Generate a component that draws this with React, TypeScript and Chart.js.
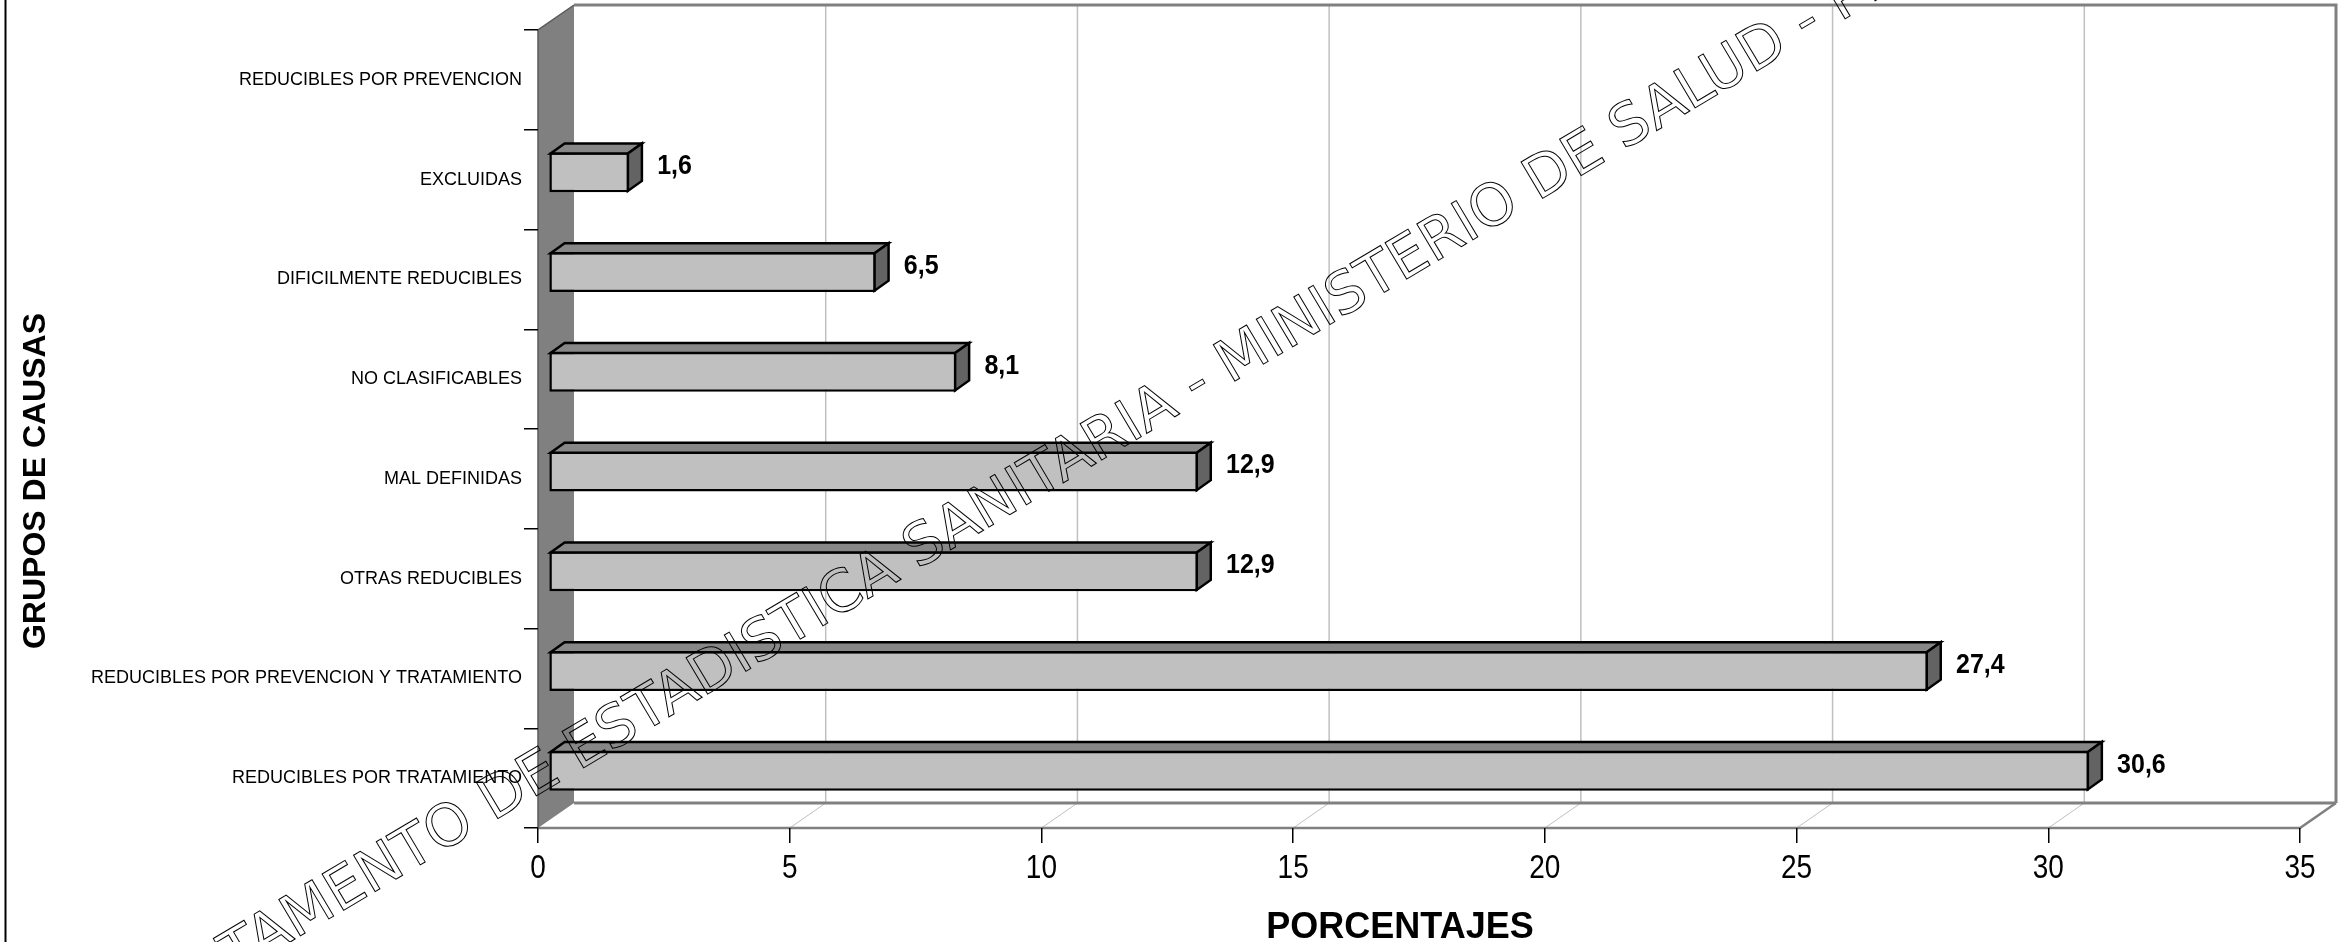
import React, { useEffect, useRef } from 'react';
import { Chart, registerables } from 'chart.js';

Chart.register(...registerables);

// ---------- data ----------
const categories = [
  'REDUCIBLES POR PREVENCION',
  'EXCLUIDAS',
  'DIFICILMENTE REDUCIBLES',
  'NO CLASIFICABLES',
  'MAL DEFINIDAS',
  'OTRAS REDUCIBLES',
  'REDUCIBLES POR PREVENCION Y TRATAMIENTO',
  'REDUCIBLES POR TRATAMIENTO',
];
const porcentajes: (number | null)[] = [null, 1.6, 6.5, 8.1, 12.9, 12.9, 27.4, 30.6];
const xTicks = [0, 5, 10, 15, 20, 25, 30, 35];
const xTitle = 'PORCENTAJES';
const yTitle = 'GRUPOS DE CAUSAS';
const watermark = 'DEPARTAMENTO DE ESTADISTICA SANITARIA - MINISTERIO DE SALUD - PROVINCIA';

// ---------- style ----------
const W = 2344;
const H = 942;
const FAMILY = '"Liberation Sans", Arial, Helvetica, sans-serif';
const WM_FAMILY = '"DejaVu Sans", Verdana, sans-serif';
const DX = 36; // wall depth
const DY = -25;
const BAR_OFF_X = 10.6; // bar front face offset inside the depth
const BAR_OFF_Y = -7.4;
const BAR_DX = 14; // bar depth
const BAR_DY = -10;
const BW = 2.5;

const fmt = (v: number) => v.toFixed(1).replace('.', ',');

const threeD = {
  id: 'threeD',
  beforeDraw(chart: any) {
    const { ctx, chartArea: a, scales } = chart;
    const x = scales.x;
    ctx.save();
    ctx.fillStyle = '#fff';
    ctx.fillRect(0, 0, chart.width, chart.height);

    // left frame line
    ctx.strokeStyle = '#000';
    ctx.lineWidth = 2;
    ctx.beginPath();
    ctx.moveTo(5.5, 0);
    ctx.lineTo(5.5, H);
    ctx.stroke();

    const bl = a.left + DX;
    const br = a.right + DX;
    const bt = a.top + DY;
    const bb = a.bottom + DY;

    ctx.fillStyle = '#fff';
    ctx.fillRect(bl, bt, br - bl, bb - bt);

    // grid lines on back wall and floor
    ctx.strokeStyle = '#c0c0c0';
    xTicks.forEach((v) => {
      if (v === xTicks[0] || v === xTicks[xTicks.length - 1]) return;
      const px = x.getPixelForValue(v);
      ctx.lineWidth = 1.5;
      ctx.beginPath();
      ctx.moveTo(px + DX, bt);
      ctx.lineTo(px + DX, bb);
      ctx.stroke();
      ctx.lineWidth = 1;
      ctx.beginPath();
      ctx.moveTo(px + DX, bb);
      ctx.lineTo(px, a.bottom);
      ctx.stroke();
    });

    // back wall edges
    ctx.strokeStyle = '#808080';
    ctx.lineWidth = 3;
    ctx.beginPath();
    ctx.moveTo(bl, bt);
    ctx.lineTo(br, bt);
    ctx.lineTo(br, bb);
    ctx.stroke();

    // floor edges
    ctx.beginPath();
    ctx.moveTo(bl, bb);
    ctx.lineTo(br, bb);
    ctx.stroke();
    ctx.lineWidth = 2.5;
    ctx.beginPath();
    ctx.moveTo(br, bb);
    ctx.lineTo(a.right, a.bottom);
    ctx.lineTo(a.left, a.bottom);
    ctx.stroke();

    // side wall
    ctx.fillStyle = '#808080';
    ctx.beginPath();
    ctx.moveTo(a.left, a.top);
    ctx.lineTo(bl, bt);
    ctx.lineTo(bl, bb);
    ctx.lineTo(a.left, a.bottom);
    ctx.closePath();
    ctx.fill();
    ctx.strokeStyle = '#5a5a5a';
    ctx.lineWidth = 1.5;
    ctx.beginPath();
    ctx.moveTo(a.left, a.bottom);
    ctx.lineTo(a.left, a.top);
    ctx.lineTo(bl, bt);
    ctx.stroke();
    ctx.restore();
  },
  beforeDatasetsDraw(chart: any) {
    chart.ctx.save();
    chart.ctx.translate(BAR_OFF_X, BAR_OFF_Y);
  },
  afterDatasetsDraw(chart: any) {
    const { ctx } = chart;
    const meta = chart.getDatasetMeta(0);
    const data = chart.data.datasets[0].data;
    const i2 = BW / 2;
    meta.data.forEach((el: any, i: number) => {
      const v = data[i];
      if (v === null || v === undefined) return;
      const p = el.getProps(['x', 'y', 'base', 'height'], true);
      const l = Math.min(p.base, p.x) + i2;
      const r = Math.max(p.base, p.x) - i2;
      const t = p.y - p.height / 2 + i2;
      const b = p.y + p.height / 2 - i2;
      ctx.lineWidth = BW;
      ctx.lineJoin = 'miter';
      ctx.strokeStyle = '#000';
      // top face
      ctx.fillStyle = '#878787';
      ctx.beginPath();
      ctx.moveTo(l, t);
      ctx.lineTo(l + BAR_DX, t + BAR_DY);
      ctx.lineTo(r + BAR_DX, t + BAR_DY);
      ctx.lineTo(r, t);
      ctx.closePath();
      ctx.fill();
      ctx.stroke();
      // side face
      ctx.fillStyle = '#636363';
      ctx.beginPath();
      ctx.moveTo(r, t);
      ctx.lineTo(r + BAR_DX, t + BAR_DY);
      ctx.lineTo(r + BAR_DX, b + BAR_DY);
      ctx.lineTo(r, b);
      ctx.closePath();
      ctx.fill();
      ctx.stroke();
      // value label
      ctx.save();
      ctx.fillStyle = '#000';
      ctx.font = `bold 25px ${FAMILY}`;
      ctx.textAlign = 'left';
      ctx.textBaseline = 'alphabetic';
      ctx.translate(Math.max(p.base, p.x) + 28, p.y - 8 + 0.358 * 25 * 1.1);
      ctx.scale(1, 1.1);
      ctx.fillText(fmt(v as number), 0, 0);
      ctx.restore();
    });
    ctx.restore();
  },
  afterDraw(chart: any) {
    const { ctx, scales } = chart;
    const x = scales.x;
    ctx.save();
    ctx.fillStyle = '#000';
    // x tick labels
    ctx.font = `28px ${FAMILY}`;
    ctx.textAlign = 'center';
    ctx.textBaseline = 'alphabetic';
    xTicks.forEach((v) => {
      ctx.save();
      ctx.translate(x.getPixelForValue(v), 878);
      ctx.scale(1, 1.2);
      ctx.fillText(String(v), 0, 0);
      ctx.restore();
    });
    // x title
    ctx.font = `bold 36px ${FAMILY}`;
    ctx.fillText(xTitle, 1400, 938);
    // y title
    ctx.save();
    ctx.font = `bold 32px ${FAMILY}`;
    ctx.translate(44.5, 481);
    ctx.rotate(-Math.PI / 2);
    ctx.fillText(yTitle, 0, 0);
    ctx.restore();
    // watermark (outlined text)
    ctx.font = `58px ${WM_FAMILY}`;
    const prefix = watermark.slice(0, watermark.indexOf('MINISTERIO'));
    const w = ctx.measureText(prefix).width;
    ctx.translate(1230, 384);
    ctx.rotate((-30.7 * Math.PI) / 180);
    ctx.strokeStyle = '#000';
    ctx.lineWidth = 1;
    ctx.textAlign = 'left';
    ctx.strokeText(watermark, -w, 0);
    ctx.restore();
  },
};

export default function App() {
  const ref = useRef<HTMLCanvasElement | null>(null);

  useEffect(() => {
    document.body.style.margin = '0';
    const canvas = ref.current;
    if (!canvas) return;
    const chart = new Chart(canvas, {
      type: 'bar',
      data: {
        labels: categories,
        datasets: [
          {
            data: porcentajes as any,
            backgroundColor: '#c0c0c0',
            borderColor: '#000',
            borderWidth: BW,
            borderSkipped: false,
            barPercentage: 0.4,
            categoryPercentage: 1,
            clip: false as any,
          },
        ],
      },
      options: {
        indexAxis: 'y',
        responsive: false,
        maintainAspectRatio: false,
        animation: false,
        devicePixelRatio: 1,
        layout: { padding: { top: 30, right: 44, left: 0, bottom: 0 } },
        plugins: {
          legend: { display: false },
          tooltip: { enabled: false },
          title: { display: false },
        },
        scales: {
          x: {
            type: 'linear',
            min: xTicks[0],
            max: xTicks[xTicks.length - 1],
            afterFit: (s: any) => {
              s.height = H - 828;
            },
            afterBuildTicks: (s: any) => {
              s.ticks = xTicks.map((v) => ({ value: v }));
            },
            ticks: { display: false },
            grid: {
              drawOnChartArea: false,
              drawTicks: true,
              tickLength: 15,
              color: '#000',
              lineWidth: 1.5,
            },
            border: { display: false },
          },
          y: {
            type: 'category',
            offset: true,
            afterFit: (s: any) => {
              s.width = 538;
            },
            ticks: {
              font: { size: 18, family: FAMILY },
              color: '#000',
              padding: 2,
              autoSkip: false,
            },
            grid: {
              offset: true,
              drawOnChartArea: false,
              drawTicks: true,
              tickLength: 14,
              color: '#000',
              lineWidth: 1.5,
            },
            border: { display: false },
          },
        },
      } as any,
      plugins: [threeD],
    });
    return () => chart.destroy();
  }, []);

  return (
    <div style={{ position: 'fixed', left: 0, top: 0, width: W, height: H, background: '#fff' }}>
      <canvas ref={ref} width={W} height={H} style={{ width: W, height: H, display: 'block' }} />
    </div>
  );
}
